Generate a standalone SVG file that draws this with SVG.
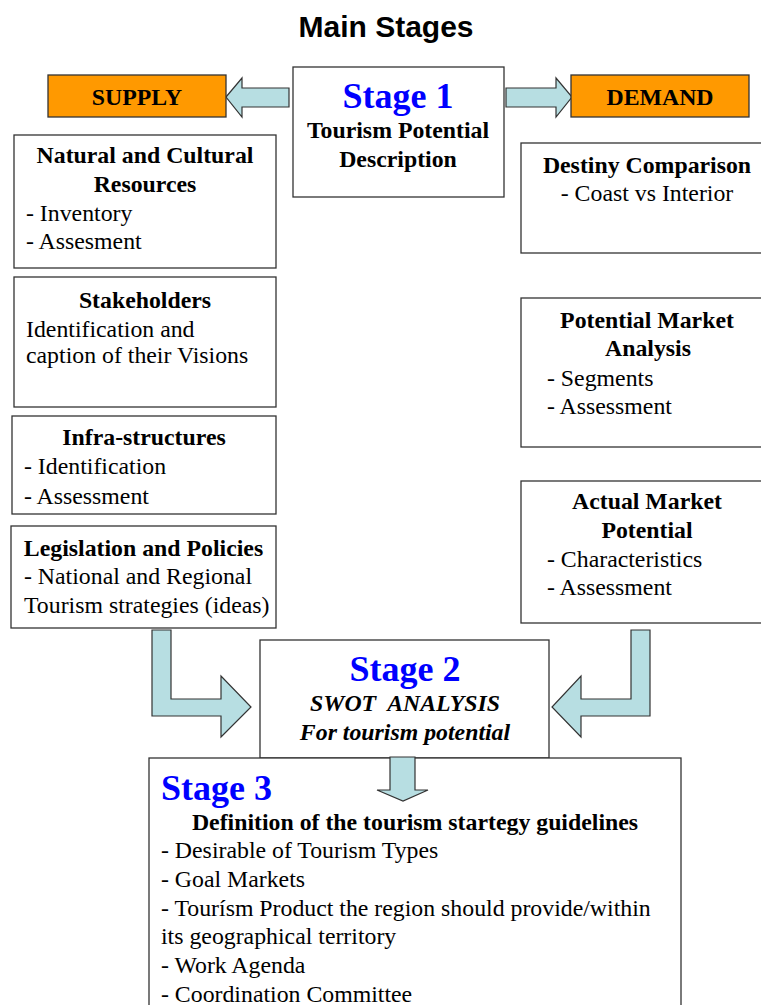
<svg xmlns="http://www.w3.org/2000/svg" width="761" height="1005" viewBox="0 0 761 1005">
<style>
.box{fill:#fff;stroke:#333;stroke-width:1.3}
.org{fill:#FF9900;stroke:#333;stroke-width:1.3}
.arr{fill:#B7DEE2;stroke:#333;stroke-width:1.2;stroke-linejoin:miter}
text{font-family:"Liberation Serif","Times New Roman",serif;font-size:23.8px;fill:#000}
.b{font-weight:bold}
.c{text-anchor:middle}
.st{font-size:36px;font-weight:bold;fill:#0000FF}
.bi{font-weight:bold;font-style:italic}
.title{font-family:"Liberation Sans",Arial,sans-serif;font-size:30px;font-weight:bold}
</style>
<rect width="761" height="1005" fill="#fff"/>
<text class="title c" x="386" y="37">Main Stages</text>
<g id="connectors">
<polygon class="arr" points="226,97 242,78 242,88 289,88 289,107 242,107 242,117"/>
<polygon class="arr" points="506,88 556,88 556,78 572,97 556,117 556,107 506,107"/>
<polygon class="arr" points="152,630 171,630 171,699 221,699 221,676 251,707 221,737 221,716 152,716"/>
<polygon class="arr" points="631,630 650,630 650,716 581,716 581,737 552,707 581,676 581,699 631,699"/>
</g>
<g id="supply"><rect class="org" x="48" y="75" width="178" height="42"/><text class="b c" x="137" y="105">SUPPLY</text></g>
<g id="demand"><rect class="org" x="571" y="75" width="178" height="42"/><text class="b c" x="660" y="105">DEMAND</text></g>
<g id="stage1"><rect class="box" x="293" y="67" width="211" height="130"/>
<text class="st c" x="398" y="108">Stage 1</text>
<text class="b c" x="398" y="138">Tourism Potential</text>
<text class="b c" x="398" y="167">Description</text></g>
<g id="natural"><rect class="box" x="14" y="135" width="262" height="133"/>
<text class="b c" x="145" y="163">Natural and Cultural</text>
<text class="b c" x="145" y="192">Resources</text>
<text x="26" y="221">- Inventory</text>
<text x="26" y="249">- Assesment</text></g>
<g id="stakeholders"><rect class="box" x="14" y="277" width="262" height="130"/>
<text class="b c" x="145" y="308">Stakeholders</text>
<text x="26" y="337">Identification and</text>
<text x="26" y="363">caption of their Visions</text></g>
<g id="infra"><rect class="box" x="12" y="416" width="264" height="98"/>
<text class="b c" x="144" y="445">Infra-structures</text>
<text x="24" y="474">- Identification</text>
<text x="24" y="504">- Assessment</text></g>
<g id="legislation"><rect class="box" x="11" y="526" width="265" height="102"/>
<text class="b c" x="143.5" y="556">Legislation and Policies</text>
<text x="24" y="584">- National and Regional</text>
<text x="24" y="613">Tourism strategies (ideas)</text></g>
<g id="destiny"><rect class="box" x="521" y="143" width="250" height="110"/>
<text class="b c" x="647" y="173">Destiny Comparison</text>
<text class="c" x="647" y="201">- Coast vs Interior</text></g>
<g id="potential"><rect class="box" x="521" y="298" width="250" height="149"/>
<text class="b c" x="647" y="328">Potential Market</text>
<text class="b c" x="648" y="356">Analysis</text>
<text x="547" y="386">- Segments</text>
<text x="547" y="414">- Assessment</text></g>
<g id="actual"><rect class="box" x="521" y="481" width="250" height="142"/>
<text class="b c" x="647" y="509">Actual Market</text>
<text class="b c" x="647" y="538">Potential</text>
<text x="547" y="567">- Characteristics</text>
<text x="547" y="595">- Assessment</text></g>
<g id="stage2"><rect class="box" x="260" y="640" width="289" height="118"/>
<text class="st c" x="405" y="681">Stage 2</text>
<text class="bi c" x="405" y="711" xml:space="preserve">SWOT  ANALYSIS</text>
<text class="bi c" x="405" y="740">For tourism potential</text></g>
<g id="stage3"><rect class="box" x="149" y="758" width="532" height="260"/>
<text class="st" x="161" y="800">Stage 3</text>
<text class="b c" x="415" y="830">Definition of the tourism startegy guidelines</text>
<text x="161" y="858">- Desirable of Tourism Types</text>
<text x="161" y="887">- Goal Markets</text>
<text x="161" y="916">- Tourísm Product the region should provide/within</text>
<text x="161" y="944">its geographical territory</text>
<text x="161" y="973">- Work Agenda</text>
<text x="161" y="1002">- Coordination Committee</text></g>
<g id="connector-down"><polygon class="arr" points="390,757 415,757 415,790 428,790 403,801 377,790 390,790"/></g>
</svg>
